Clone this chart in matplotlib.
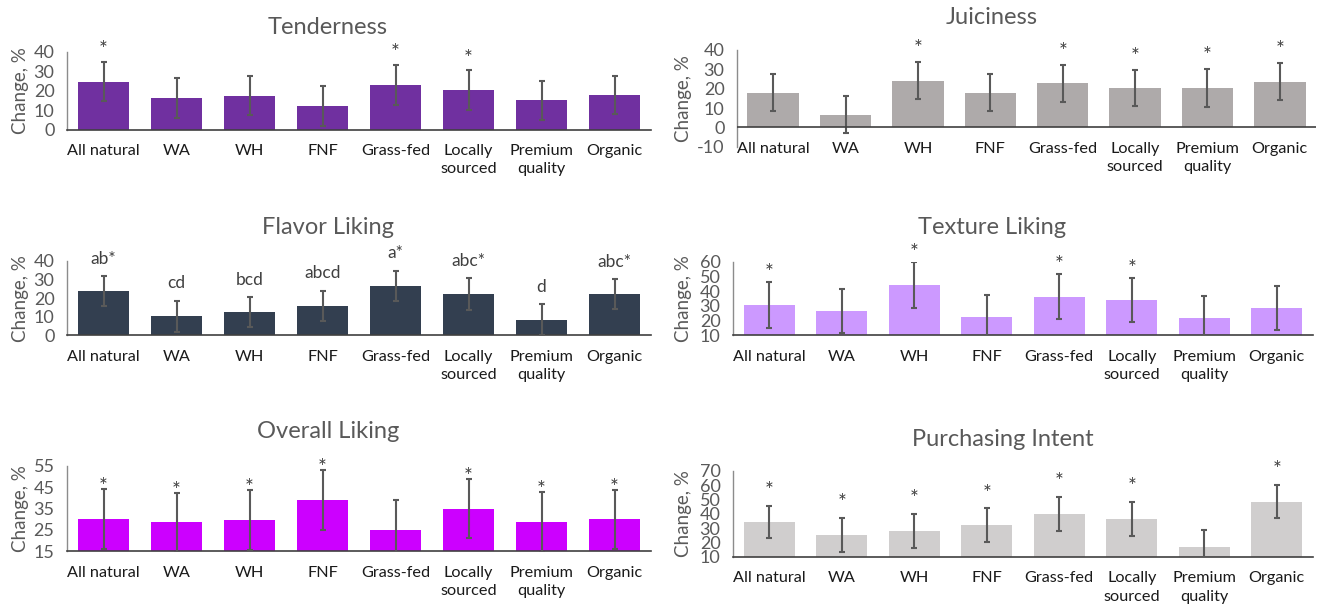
import matplotlib.pyplot as plt

plt.rcParams['font.family'] = ['Lato', 'DejaVu Sans']
plt.rcParams['axes.unicode_minus'] = False

W, H = 1320, 606

# Categories (x axis)
categories = ['All natural', 'WA', 'WH', 'FNF', 'Grass-fed',
              'Locally\nsourced', 'Premium\nquality', 'Organic']

# Change, % per claim and error bar half-widths
tenderness = [24.7, 16.1, 17.5, 12.2, 23.0, 20.4, 15.1, 17.7]
tenderness_err = [10.1, 10.3, 10.0, 10.3, 10.3, 10.2, 10.1, 9.9]
tenderness_marks = ['*', '', '', '', '*', '*', '', '']

juiciness = [18.0, 6.6, 24.2, 18.0, 22.7, 20.3, 20.4, 23.7]
juiciness_err = [9.6, 9.6, 9.6, 9.5, 9.7, 9.5, 9.7, 9.7]
juiciness_marks = ['', '', '*', '', '*', '*', '*', '*']

flavor = [23.9, 10.2, 12.4, 15.8, 26.5, 22.2, 8.4, 22.1]
flavor_err = [8.0, 8.4, 8.2, 8.2, 8.3, 8.4, 8.3, 8.2]
flavor_marks = ['ab*', 'cd', 'bcd', 'abcd', 'a*', 'abc*', 'd', 'abc*']

texture = [30.6, 26.5, 44.2, 22.2, 36.2, 34.0, 21.5, 28.6]
texture_err = [15.4, 15.2, 15.4, 15.4, 15.4, 15.1, 15.4, 15.1]
texture_marks = ['*', '', '*', '', '*', '*', '', '']

overall = [30.0, 28.4, 29.5, 38.9, 24.8, 34.8, 28.6, 29.8]
overall_err = [13.9, 13.9, 14.1, 13.9, 14.3, 13.9, 14.2, 13.9]
overall_marks = ['*', '*', '*', '*', '', '*', '*', '*']

purchasing = [34.0, 25.3, 28.1, 31.9, 39.8, 36.5, 16.5, 48.4]
purchasing_err = [11.3, 11.9, 11.7, 11.8, 11.6, 11.9, 12.3, 11.6]
purchasing_marks = ['*', '*', '*', '*', '*', '*', '', '*']

fig = plt.figure(figsize=(W / 100, H / 100), dpi=100)

GRAY = '#595959'


def panel(left, right, top, bottom, title, title_xy, ylabel_x, values, errs,
          marks, color, ylim, ticks, mark_off, zero_line=False, label_pad=10.5,
          mark_size=15):
    ax = fig.add_axes([left / W, 1 - bottom / H, (right - left) / W, (bottom - top) / H])
    x = list(range(len(values)))
    ax.bar(x, values, width=0.71, color=color, zorder=2)
    ax.errorbar(x, values, yerr=errs, fmt='none', ecolor=GRAY, elinewidth=1.5,
                capsize=2.5, capthick=1.5, zorder=3)
    for i, m in enumerate(marks):
        if m:
            ax.annotate(m, (i, values[i] + errs[i]), xytext=(0, mark_off),
                        textcoords='offset points', ha='center', va='baseline',
                        fontsize=mark_size, color='#404040', annotation_clip=False)
    ax.set_xlim(-0.5, 7.5)
    ax.set_ylim(*ylim)
    ax.set_yticks(ticks)
    ax.set_xticks(x)
    ax.set_xticklabels(categories)
    for lab in ax.get_xticklabels():
        lab.set_linespacing(1.4)
    ax.tick_params(axis='x', length=0, labelsize=11.7, pad=label_pad, labelcolor='#1a1a1a')
    ax.tick_params(axis='y', length=0, labelsize=13, pad=9, labelcolor=GRAY)
    for s in ['top', 'right']:
        ax.spines[s].set_visible(False)
    ax.spines['left'].set_color('#8c8c8c')
    ax.spines['left'].set_linewidth(1.0)
    if zero_line:
        ax.spines['bottom'].set_visible(False)
        ax.axhline(0, color='#404040', linewidth=1.2, zorder=4)
    else:
        ax.spines['bottom'].set_color('#404040')
        ax.spines['bottom'].set_linewidth(1.2)
    fig.text(title_xy[0] / W, 1 - title_xy[1] / H, title, ha='center', va='center',
             fontsize=17, color=GRAY)
    fig.text(ylabel_x / W, 1 - (top + bottom) / 2 / H, 'Change, %', rotation=90,
             ha='center', va='center', fontsize=13.5, color=GRAY)
    return ax


panel(67, 651, 52, 129.5, 'Tenderness', (328, 28), 21, tenderness, tenderness_err,
      tenderness_marks, '#7030A0', (0, 40), [0, 10, 20, 30, 40], 4.1)
panel(737, 1316, 50, 146.7, 'Juiciness', (992, 17), 684, juiciness, juiciness_err,
      juiciness_marks, '#AEAAAA', (-10, 40), [-10, 0, 10, 20, 30, 40], 4.9,
      zero_line=True, label_pad=-3.5)
panel(67, 651, 261, 335.3, 'Flavor Liking', (328, 227), 21, flavor, flavor_err,
      flavor_marks, '#333F50', (0, 40), [0, 10, 20, 30, 40], 9.0, mark_size=12.5)
panel(733, 1313, 261.7, 335.3, 'Texture Liking', (992, 227), 684, texture, texture_err,
      texture_marks, '#CC99FF', (10, 60), [10, 20, 30, 40, 50, 60], 2.1)
panel(67, 651, 465.7, 551, 'Overall Liking', (328, 432), 21, overall, overall_err,
      overall_marks, '#CC00FF', (15, 55), [15, 25, 35, 45, 55], -2.9)
panel(733, 1313, 470.7, 556.7, 'Purchasing Intent', (1003, 439), 684, purchasing,
      purchasing_err, purchasing_marks, '#D0CECE', (10, 70), [10, 20, 30, 40, 50, 60, 70], 6.4)

fig.savefig('out.png', dpi=100)
